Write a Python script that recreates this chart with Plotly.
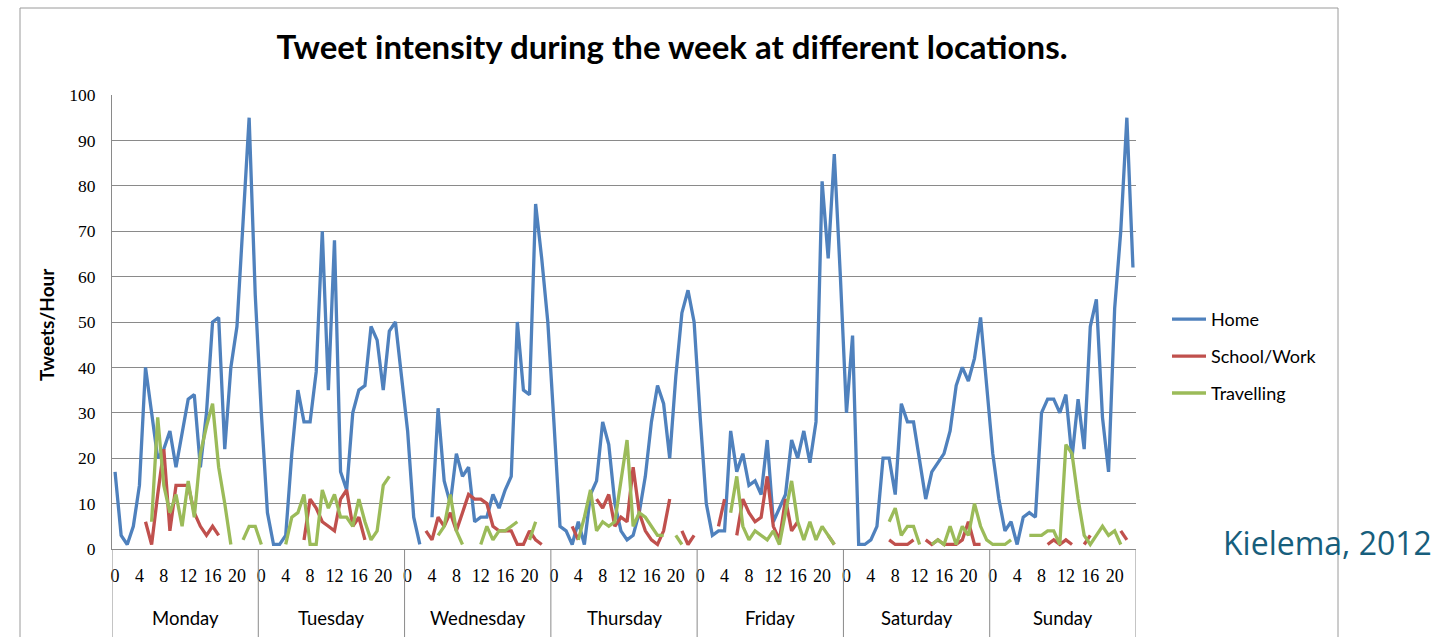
import plotly.graph_objects as go

# Hourly tweet counts, one list of 24 values per day (None = no tweets recorded)
day_names = ["Monday", "Tuesday", "Wednesday", "Thursday", "Friday", "Saturday", "Sunday"]
hour_ticks = [0, 4, 8, 12, 16, 20]

home = (
    [17, 3, 1, 5, 14, 40, 30, 20, 22, 26, 18, 26, 33, 34, 18, 30, 50, 51, 22, 40, 49, 72, 95, 56]
    + [30, 8, 1, 1, 3, 21, 35, 28, 28, 39, 70, 35, 68, 17, 13, 30, 35, 36, 49, 46, 35, 48, 50, 38]
    + [26, 7, 1, None, 7, 31, 15, 10, 21, 16, 18, 6, 7, 7, 12, 9, 13, 16, 50, 35, 34, 76, 64, 50]
    + [28, 5, 4, 1, 6, 1, 12, 15, 28, 23, 10, 4, 2, 3, 8, 16, 28, 36, 32, 20, 38, 52, 57, 50]
    + [29, 10, 3, 4, 4, 26, 17, 21, 14, 15, 12, 24, 6, 9, 12, 24, 20, 26, 19, 28, 81, 64, 87, 60]
    + [30, 47, 1, 1, 2, 5, 20, 20, 12, 32, 28, 28, 19, 11, 17, 19, 21, 26, 36, 40, 37, 42, 51, 36]
    + [21, 11, 4, 6, 1, 7, 8, 7, 30, 33, 33, 30, 34, 20, 33, 22, 49, 55, 29, 17, 53, 70, 95, 62]
)

N = None
school_work = (
    [N, N, N, N, N, 6, 1, 12, 22, 4, 14, 14, 14, 8, 5, 3, 5, 3, N, N, N, N, N, N]
    + [N, N, N, N, N, N, N, 2, 11, 9, 6, 5, 4, 11, 13, 5, 7, 2, N, N, N, N, N, N]
    + [N, N, N, 4, 2, 7, 5, 8, 4, 8, 12, 11, 11, 10, 5, 4, 4, 4, 1, 1, 4, 2, 1, N]
    + [N, N, N, 5, 2, N, N, 11, 9, 12, 5, 7, 6, 18, 8, 4, 2, 1, 4, 11, N, 4, 1, 3]
    + [N, N, N, 5, 11, N, 3, 11, 8, 6, 7, 16, 5, 2, 11, 4, 6, N, N, N, N, 3, 1, N]
    + [N, N, N, N, N, N, N, 2, 1, 1, 1, 2, N, 2, 1, 2, 1, 1, 1, 2, 6, 1, 1, N]
    + [N, N, N, N, N, N, N, N, N, 1, 2, 1, 2, 1, N, 1, 3, N, N, N, N, 4, 2, N]
)

travelling = (
    [N, N, N, N, N, N, 6, 29, 14, 8, 12, 5, 15, 7, 21, 27, 32, 18, 10, 1, N, 2, 5, 5]
    + [1, N, N, N, 1, 7, 8, 12, 1, 1, 13, 9, 12, 7, 7, 5, 11, 6, 2, 4, 14, 16, N, N]
    + [N, N, N, N, N, 3, 5, 12, 4, 1, N, N, 1, 5, 2, 4, 4, 5, 6, N, 2, 6, N, N]
    + [N, N, N, N, 2, 7, 13, 4, 6, 5, 6, 15, 24, 5, 8, 7, 5, 3, 3, N, 3, 1, N, N]
    + [N, N, N, N, N, 8, 16, 5, 2, 4, 3, 2, 4, 1, 8, 15, 6, 2, 6, 2, 5, 3, 1, N]
    + [N, N, N, N, N, N, N, 6, 9, 3, 5, 5, 1, N, 1, 2, 1, 5, 1, 5, 3, 10, 5, 2]
    + [1, 1, 1, 2, N, N, 3, 3, 3, 4, 4, 1, 23, 21, 11, 3, 1, 3, 5, 3, 4, 1, N, N]
)

series = [
    ("Home", home, "#4F81BD"),
    ("School/Work", school_work, "#C0504D"),
    ("Travelling", travelling, "#9BBB59"),
]

# Each hour sits in the middle of its slot on a continuous 0..168 hour axis
hours_per_day = 24
x_pos = [d * hours_per_day + h + 0.5 for d in range(len(day_names)) for h in range(hours_per_day)]

# Plot-area geometry in pixels (used to convert to paper coordinates)
W, H = 1437, 637
L, R, T, B = 112, 1136, 95, 549
pw, ph = R - L, B - T


def px_x(x):
    return (x - L) / pw


def px_y(y):
    return (B - y) / ph


SANS = "Lato, 'Open Sans', sans-serif"
SERIF = "'Liberation Serif', 'DejaVu Serif', serif"
GRID = "#8A8A8A"

fig = go.Figure()
for i, (name, vals, color) in enumerate(series):
    fig.add_trace(go.Scatter(
        x=x_pos, y=vals, name=name, mode="lines",
        line=dict(color=color, width=3.3),
        connectgaps=False, legendgroup=name,
    ))

tickvals = [d * hours_per_day + h + 0.5 for d in range(len(day_names)) for h in hour_ticks]
ticktext = [str(h) for d in range(len(day_names)) for h in hour_ticks]

shapes = []
# day separators of the two-level category axis
for d in range(len(day_names) + 1):
    shapes.append(dict(type="line", xref="x", yref="paper",
                       x0=d * hours_per_day, x1=d * hours_per_day, y0=0, y1=-0.25,
                       line=dict(color=GRID, width=1)))
# chart-area frame
shapes.append(dict(type="rect", xref="paper", yref="paper",
                   x0=px_x(20), x1=px_x(1338), y0=px_y(700), y1=px_y(8),
                   line=dict(color="#9A9A9A", width=1), layer="below"))

annotations = []
for d, name in enumerate(day_names):
    annotations.append(dict(x=d * hours_per_day + hours_per_day / 2, xref="x",
                            y=px_y(618), yref="paper", text=name, showarrow=False,
                            xanchor="center", yanchor="middle",
                            font=dict(family=SANS, size=18.5, color="#000000")))
annotations.append(dict(x=px_x(46), xref="paper", y=px_y(325), yref="paper",
                        text="<b>Tweets/Hour</b>", textangle=-90, showarrow=False,
                        xanchor="center", yanchor="middle",
                        font=dict(family=SANS, size=19, color="#000000")))
annotations.append(dict(x=px_x(1221), xref="paper", y=px_y(542), yref="paper",
                        text="Kielema, 2012", showarrow=False,
                        xanchor="left", yanchor="middle",
                        font=dict(family="'Open Sans', sans-serif", size=32, color="#175E7C")))

fig.update_layout(
    width=W, height=H,
    margin=dict(l=L, r=W - R, t=T, b=H - B, pad=0),
    paper_bgcolor="white", plot_bgcolor="white",
    title=dict(text="<b>Tweet intensity during the week at different locations.</b>",
               x=672 / W, xref="container", xanchor="center",
               y=1 - 47 / H, yref="container", yanchor="middle",
               font=dict(family=SANS, size=33, color="#000000")),
    xaxis=dict(range=[0, hours_per_day * len(day_names)], tickmode="array",
               tickvals=tickvals, ticktext=ticktext, showgrid=False, zeroline=False,
               showline=True, linecolor=GRID, linewidth=1, ticks="",
               ticklabelstandoff=10,
               tickfont=dict(family=SERIF, size=18, color="#000000")),
    yaxis=dict(range=[0, 100], dtick=10, showgrid=True, gridcolor=GRID, gridwidth=1,
               zeroline=False, showline=True, linecolor=GRID, linewidth=1, ticks="",
               ticklabelstandoff=12,
               tickfont=dict(family=SERIF, size=17.5, color="#000000")),
    legend=dict(x=px_x(1167), y=px_y(301), xanchor="left", yanchor="top",
                traceorder="grouped", tracegroupgap=10.5,
                font=dict(family=SANS, size=18, color="#000000"),
                bgcolor="rgba(0,0,0,0)", itemwidth=34),
    shapes=shapes,
    annotations=annotations,
    showlegend=True,
)

fig.write_html("out.html")
